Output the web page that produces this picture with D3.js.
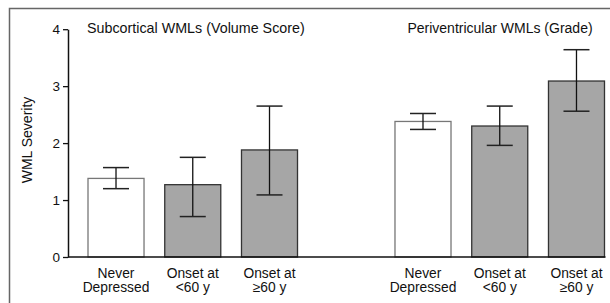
<!DOCTYPE html>
<html>
<head>
<meta charset="utf-8">
<script src="https://cdn.jsdelivr.net/npm/d3@7"></script>
<style>
  body { margin: 0; background: #fff; }
  svg text { font-family: "Liberation Sans", Arial, sans-serif; fill: #111; }
</style>
</head>
<body>
<svg id="chart" width="610" height="303"></svg>
<script>
// slots along the x axis, "gap" is the empty space between the two panels
const slots = ["sc_never", "sc_lt60", "sc_ge60", "gap", "pv_never", "pv_lt60", "pv_ge60"];
const labels = [["Never", "Depressed"], ["Onset at", "<60 y"], ["Onset at", "\u226560 y"]];
const groupTitles = ["Subcortical WMLs (Volume Score)", "Periventricular WMLs (Grade)"];

// means and error bar ends
const subcorticalMean = [1.38, 1.27, 1.88];
const subcorticalLow  = [1.20, 0.71, 1.09];
const subcorticalHigh = [1.57, 1.75, 2.65];
const periventricularMean = [2.38, 2.30, 3.09];
const periventricularLow  = [2.24, 1.96, 2.56];
const periventricularHigh = [2.52, 2.65, 3.64];
const yTicks = [0, 1, 2, 3, 4];

const bars = [];
["sc", "pv"].forEach((g, gi) => {
  const m = gi === 0 ? subcorticalMean : periventricularMean;
  const lo = gi === 0 ? subcorticalLow : periventricularLow;
  const hi = gi === 0 ? subcorticalHigh : periventricularHigh;
  m.forEach((v, i) => bars.push({ key: slots[gi * 4 + i], i: i, mean: v, lo: lo[i], hi: hi[i] }));
});

const svg = d3.select("#chart");

// outer frame (right and bottom edges fall outside the picture)
svg.append("rect")
  .attr("x", 9.5).attr("y", 8.5)
  .attr("width", 620).attr("height", 310)
  .attr("fill", "none").attr("stroke", "#666").attr("stroke-width", 1.5);

const x = d3.scaleBand().domain(slots).range([88, 604.5]).paddingInner(0.27).paddingOuter(0);
const y = d3.scaleLinear().domain([0, 4]).range([257, 29.2]);

// bars
svg.selectAll(".bar")
  .data(bars)
  .enter().append("rect")
  .attr("class", "bar")
  .attr("x", d => x(d.key))
  .attr("y", d => y(d.mean))
  .attr("width", x.bandwidth())
  .attr("height", d => y(0) - y(d.mean))
  .attr("fill", d => d.i === 0 ? "#fff" : "#a6a6a6")
  .attr("stroke", d => d.i === 0 ? "#777" : "#333")
  .attr("stroke-width", 1.3);

// error bars
const capW = 26;
const err = svg.selectAll(".err").data(bars).enter().append("g").attr("class", "err")
  .attr("transform", d => `translate(${x(d.key) + x.bandwidth() / 2},0)`);
err.append("line")
  .attr("x1", 0).attr("x2", 0)
  .attr("y1", d => y(d.lo)).attr("y2", d => y(d.hi))
  .attr("stroke", "#111").attr("stroke-width", 1.3);
err.append("line")
  .attr("x1", -capW / 2).attr("x2", capW / 2)
  .attr("y1", d => y(d.hi)).attr("y2", d => y(d.hi))
  .attr("stroke", "#222").attr("stroke-width", 1.5);
err.append("line")
  .attr("x1", -capW / 2).attr("x2", capW / 2)
  .attr("y1", d => y(d.lo)).attr("y2", d => y(d.lo))
  .attr("stroke", "#222").attr("stroke-width", 1.5);

// y axis
const yAxis = svg.append("g")
  .attr("transform", "translate(68,0)")
  .call(d3.axisLeft(y).tickValues(yTicks).tickFormat(d3.format("d")).tickSize(5).tickSizeOuter(0).tickPadding(3));
yAxis.select(".domain").attr("stroke", "#111").attr("stroke-width", 1.5);
yAxis.selectAll(".tick line").attr("stroke", "#111").attr("stroke-width", 1.3);
yAxis.selectAll(".tick text").attr("font-size", 13.5).attr("font-family", null).attr("fill", "#111");

// x axis baseline
svg.append("line")
  .attr("x1", 68).attr("x2", x("pv_ge60") + x.bandwidth() + 1)
  .attr("y1", y(0)).attr("y2", y(0))
  .attr("stroke", "#111").attr("stroke-width", 1.5);

// category labels
const cat = svg.selectAll(".cat").data(bars).enter().append("text")
  .attr("class", "cat")
  .attr("text-anchor", "middle")
  .attr("font-size", 13.8)
  .attr("x", d => x(d.key) + x.bandwidth() / 2)
  .attr("y", 277.5);
cat.append("tspan").text(d => labels[d.i][0]);
cat.append("tspan")
  .attr("x", d => x(d.key) + x.bandwidth() / 2)
  .attr("dy", 14.5)
  .text(d => labels[d.i][1]);

// panel titles
svg.append("text").attr("x", 87).attr("y", 33).attr("font-size", 14.3).text(groupTitles[0]);
svg.append("text").attr("x", 500).attr("y", 33).attr("font-size", 14).attr("text-anchor", "middle").text(groupTitles[1]);

// y axis title
svg.append("text")
  .attr("transform", "translate(31.5,140) rotate(-90)")
  .attr("text-anchor", "middle")
  .attr("font-size", 14)
  .text("WML Severity");
</script>
</body>
</html>
